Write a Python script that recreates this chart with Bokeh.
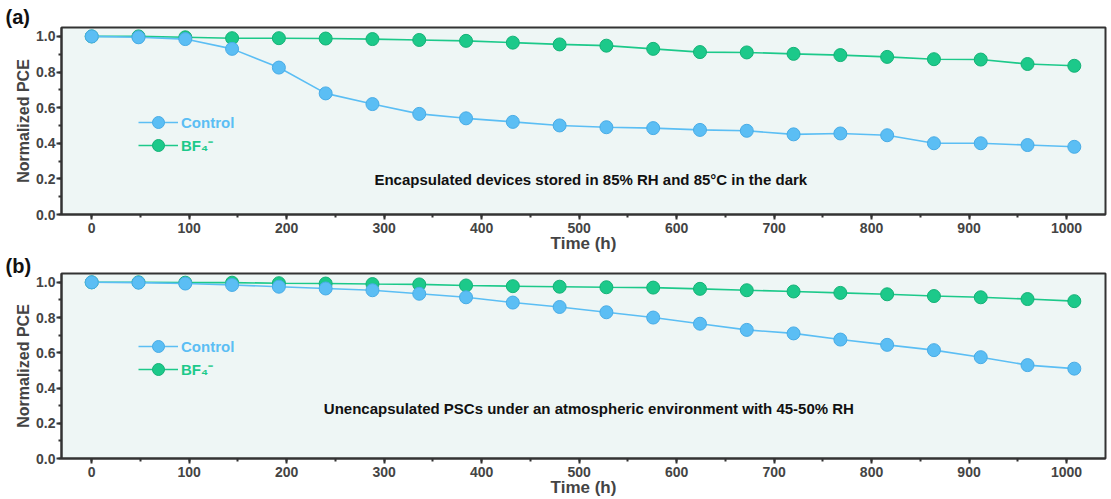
from bokeh.plotting import figure
from bokeh.layouts import column
from bokeh.models import Legend, LegendItem, Label, SingleIntervalTicker, Range1d, NumeralTickFormatter
from bokeh.embed import file_html
from bokeh.resources import INLINE

time_h = [0, 48, 96, 144, 192, 240, 288, 336, 384, 432, 480, 528, 576, 624, 672, 720, 768, 816, 864, 912, 960, 1008]

a_control = [1.0, 0.995, 0.985, 0.93, 0.825, 0.68, 0.62, 0.565, 0.54, 0.52, 0.50, 0.49, 0.485, 0.475, 0.47, 0.45, 0.455, 0.445, 0.40, 0.40, 0.39, 0.38]
a_bf4 = [1.0, 1.0, 0.995, 0.99, 0.99, 0.988, 0.985, 0.98, 0.975, 0.965, 0.955, 0.948, 0.93, 0.912, 0.91, 0.902, 0.895, 0.885, 0.872, 0.87, 0.845, 0.835]

b_control = [1.0, 0.998, 0.993, 0.985, 0.975, 0.965, 0.955, 0.935, 0.915, 0.885, 0.86, 0.83, 0.80, 0.765, 0.73, 0.71, 0.675, 0.645, 0.615, 0.575, 0.53, 0.51]
b_bf4 = [1.0, 1.0, 0.998, 0.998, 0.995, 0.993, 0.99, 0.988, 0.982, 0.978, 0.975, 0.972, 0.97, 0.963, 0.955, 0.948, 0.94, 0.932, 0.922, 0.915, 0.905, 0.893]

series_names = ["Control", "BF\u2084\u207b"]
panel_tags = ["(a)", "(b)"]
notes = ["Encapsulated devices stored in 85% RH and 85\u00b0C in the dark",
         "Unencapsulated PSCs under an atmospheric environment with 45-50% RH"]

C_CTRL = "#5BBEF4"
C_BF4 = "#1CC98A"
FONT = "Liberation Sans"


def make_panel(ctrl, bf4, tag, tag_standoff, note, note_x, note_y, height, top, bottom, legend_y):
    p = figure(width=1111, height=height, output_backend="svg", toolbar_location=None,
               x_range=Range1d(-31, 1040), y_range=Range1d(0, 1.05),
               min_border_left=61, min_border_right=6, min_border_top=top, min_border_bottom=bottom)
    p.background_fill_color = "#EEF6F5"
    p.border_fill_color = "white"
    p.outline_line_color = "#333333"
    p.outline_line_width = 2
    p.grid.visible = False

    p.title.text = tag
    p.title.text_font = FONT
    p.title.text_font_size = "20px"
    p.title.text_font_style = "bold"
    p.title.text_color = "#111111"
    p.title.align = "left"
    p.title.offset = -56
    p.title.standoff = tag_standoff

    for ax in (p.xaxis[0], p.yaxis[0]):
        ax.axis_line_width = 2
        ax.axis_line_color = "#333333"
        ax.major_tick_line_color = "#333333"
        ax.minor_tick_line_color = "#333333"
        ax.major_tick_line_width = 2
        ax.minor_tick_line_width = 2
        ax.major_tick_out = 5
        ax.major_tick_in = 0
        ax.minor_tick_out = 3
        ax.minor_tick_in = 0
        ax.major_label_text_font = FONT
        ax.major_label_text_font_style = "bold"
        ax.major_label_text_font_size = "14px"
        ax.axis_label_text_font = FONT
        ax.axis_label_text_font_style = "bold"

    p.xaxis.axis_label_text_font_size = "17px"
    p.yaxis.axis_label_text_font_size = "16px"
    p.xaxis.ticker = SingleIntervalTicker(interval=100, num_minor_ticks=2)
    p.yaxis.ticker = SingleIntervalTicker(interval=0.2, num_minor_ticks=2)
    p.yaxis.formatter = NumeralTickFormatter(format="0.0")
    p.xaxis.axis_label = "Time (h)"
    p.yaxis.axis_label = "Normalized PCE"
    p.xaxis.major_label_standoff = 3
    p.xaxis.axis_label_standoff = -2
    p.yaxis.major_label_standoff = 1
    p.yaxis.axis_label_standoff = 1

    l2 = p.line(time_h, bf4, line_color=C_BF4, line_width=1.6)
    s2 = p.scatter(time_h, bf4, size=13, fill_color=C_BF4, line_color="#14B277", line_width=1)
    l1 = p.line(time_h, ctrl, line_color=C_CTRL, line_width=1.6)
    s1 = p.scatter(time_h, ctrl, size=13, fill_color=C_CTRL, line_color="#49ACE6", line_width=1)

    for i, (items, col) in enumerate((([l1, s1], C_CTRL), ([l2, s2], C_BF4))):
        lg = Legend(items=[LegendItem(label=series_names[i], renderers=items)],
                    location=(77, legend_y - i * 23), orientation="vertical",
                    background_fill_alpha=0, border_line_color=None,
                    padding=0, margin=0, glyph_width=40, glyph_height=30,
                    label_height=30, label_standoff=3, spacing=0,
                    label_text_color=col, label_text_font=FONT,
                    label_text_font_style="bold", label_text_font_size="15px")
        p.add_layout(lg, "center")

    p.add_layout(Label(x=note_x, y=note_y, text=note, text_font=FONT, text_font_style="bold",
                       text_font_size="15px", text_align="center", text_baseline="middle",
                       text_color="#111111"))
    return p


pa = make_panel(a_control, a_bf4, panel_tags[0], 0, notes[0], 512, 0.195, 255, 27, 40, 77)
pb = make_panel(b_control, b_bf4, panel_tags[1], -6, notes[1], 510, 0.285, 244, 17, 39, 97)

layout = column(pa, pb, spacing=0)
open("out.html", "w").write(file_html(layout, INLINE))
